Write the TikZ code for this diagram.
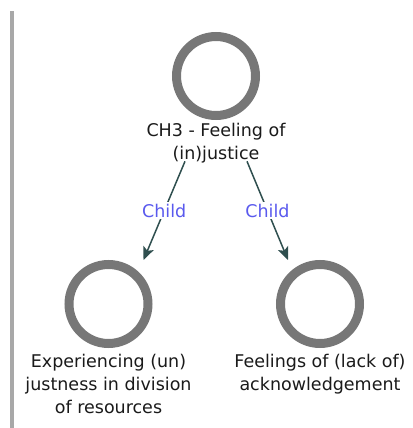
\documentclass[tikz,border=0pt]{standalone}
\usepackage{fontspec}
\setmainfont{DejaVu Sans}
\usetikzlibrary{arrows.meta}
\definecolor{ringgray}{HTML}{777777}
\definecolor{edgecol}{HTML}{2F4F4F}
\definecolor{labelblue}{HTML}{5A5AEE}
\definecolor{bargray}{HTML}{A8A8A8}
\definecolor{captiontext}{HTML}{1A1A1A}
\begin{document}
\begin{tikzpicture}[x=1pt,y=-1pt,
  ring/.style={circle, draw=ringgray, line width=9pt, minimum size=79pt, inner sep=0pt},
  caption/.style={anchor=north, align=center, inner sep=0pt, text=captiontext,
    font=\fontsize{17.5}{23}\selectfont},
  childedge/.style={draw=edgecol, line width=1.5pt, -{Stealth[length=13pt,width=11pt,inset=3pt]}},
  edgelabel/.style={fill=white, inner sep=1.5pt, text=labelblue, font=\fontsize{17.5}{20}\selectfont}]
  \useasboundingbox (0,0) rectangle (412,428);
  % side rule of the panel
  \fill[bargray] (10,11) rectangle (14,428);
  % concept rings
  \node[ring] (top) at (216,76) {};
  \node[ring] (left) at (108.5,304) {};
  \node[ring] (right) at (320,304) {};
  % captions
  \node[caption] (toptext) at (216,123) {CH3 - Feeling of\\(in)justice};
  \node[caption] (lefttext) at (108.5,354) {Experiencing (un)\\justness in division\\of resources};
  \node[caption] (righttext) at (320,354) {Feelings of (lack of)\\acknowledgement};
  % child relations
  \draw[childedge] ([xshift=-31pt,yshift=2pt]toptext.south) -- node[edgelabel] {Child} ([xshift=35pt]left.north);
  \draw[childedge] ([xshift=31pt,yshift=2pt]toptext.south) -- node[edgelabel] {Child} ([xshift=-32pt]right.north);
\end{tikzpicture}
\end{document}
